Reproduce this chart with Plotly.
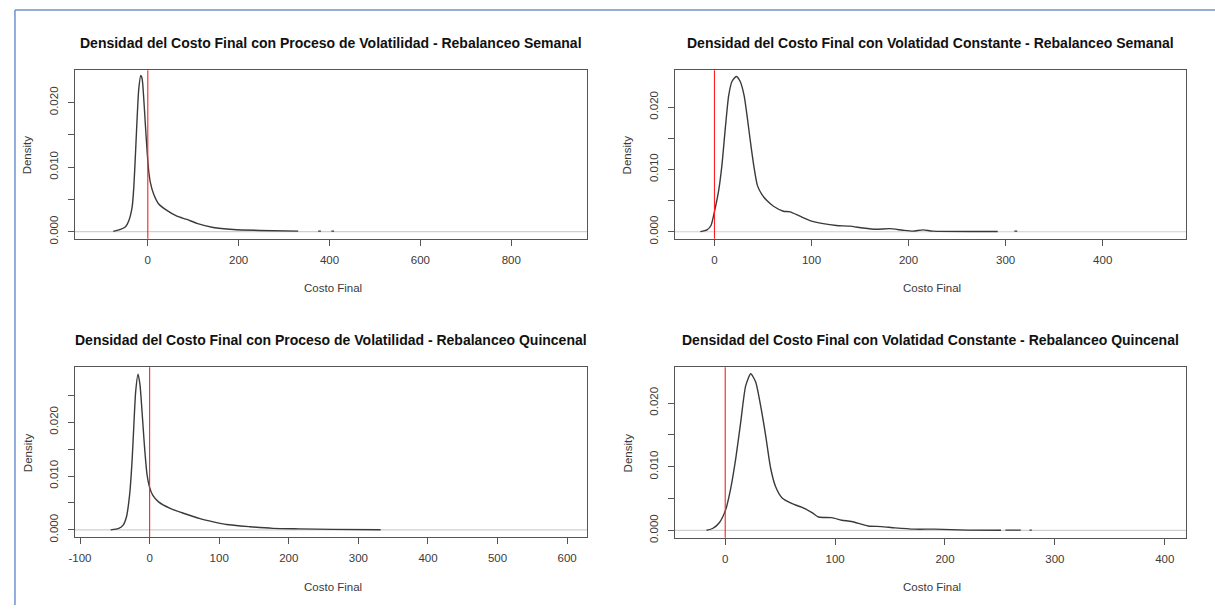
import plotly.graph_objects as go

W, H = 1215, 611

titles = [
    "Densidad del Costo Final con Proceso de Volatilidad - Rebalanceo Semanal",
    "Densidad del Costo Final con Volatidad Constante - Rebalanceo Semanal",
    "Densidad del Costo Final con Proceso de Volatilidad - Rebalanceo Quincenal",
    "Densidad del Costo Final con Volatidad Constante - Rebalanceo Quincenal",
]
x_label = "Costo Final"
y_label = "Density"

# Panel 1: Proceso de Volatilidad - Semanal
x_p1 = [-76, -60, -49, -41.8, -34.5, -30.8, -27.2, -23.5, -19.9, -15.5, -12.5, -8.9, -5.3, -1.6,
        2, 5.7, 13, 24, 42, 64, 86, 108, 144, 188, 247, 331, None, 375, 381, None, 404, 410]
y_p1 = [0.00005, 0.00035, 0.00076, 0.0017, 0.0038, 0.0069, 0.012, 0.0176, 0.0221, 0.0242, 0.0237,
        0.0206, 0.0165, 0.0125, 0.0094, 0.0076, 0.0058, 0.0043, 0.0033, 0.0024, 0.0019, 0.0013,
        0.00066, 0.00035, 0.0002, 0.0001, None, 0.0001, 0.0001, None, 0.0001, 0.0001]

# Panel 2: Volatilidad Constante - Semanal
x_p2 = [-14.6, -7.7, -3.6, 0.2, 4.3, 7.7, 11.1, 14.6, 18, 22.4, 26.5, 30.6, 34, 37.5, 40.9, 44.3,
        48.8, 54, 60.8, 71, 77.9, 88, 98.4, 112, 125.6, 139.4, 153, 166.8, 180.5, 194, 204.5, 215,
        225, 291.8, None, 309, 312]
y_p2 = [0.00002, 0.0003, 0.001, 0.0034, 0.0066, 0.0107, 0.0165, 0.0218, 0.0241, 0.0249, 0.0241,
        0.0218, 0.0181, 0.0139, 0.0102, 0.0074, 0.006, 0.005, 0.0041, 0.0033, 0.0032, 0.0025,
        0.0018, 0.0013, 0.001, 0.0009, 0.0006, 0.0004, 0.0005, 0.00025, 0.0001, 0.0003, 0.0001,
        0.00005, None, 0.0001, 0.0001]

# Panel 3: Proceso de Volatilidad - Quincenal
x_p3 = [-56, -44.3, -38, -33.3, -28.6, -25.2, -22.8, -20, -16.6, -13.8, -10.9, -7.6, -3.8, 0, 4.7,
        12.8, 29.5, 48.6, 72.4, 91.5, 110.5, 143.8, 177, 215, 263, 332]
y_p3 = [0.00002, 0.0003, 0.0009, 0.0024, 0.0067, 0.0128, 0.019, 0.0257, 0.0289, 0.0269, 0.022,
        0.0159, 0.0104, 0.0079, 0.0064, 0.0052, 0.004, 0.0031, 0.0021, 0.0015, 0.001, 0.0006,
        0.0003, 0.0002, 0.0001, 0.00005]

# Panel 4: Volatilidad Constante - Quincenal
x_p4 = [-17, -11.5, -5.4, 0.5, 5, 9.6, 14.1, 18.6, 23.2, 27.7, 32.2, 36.7, 41.3, 45.8, 51.8, 60.9,
        70, 79, 85, 97, 106, 115, 130, 142, 154.5, 172.5, 190.6, 220.6, 251, None, 255, 269, None,
        277, 279]
y_p4 = [0.00002, 0.0003, 0.0012, 0.0033, 0.0066, 0.0113, 0.017, 0.0227, 0.0246, 0.0233, 0.0196,
        0.015, 0.0098, 0.0069, 0.0051, 0.0042, 0.0036, 0.0028, 0.0021, 0.002, 0.0016, 0.0014,
        0.0007, 0.0006, 0.0004, 0.0002, 0.0002, 0.00005, 0.00002, None, 0.00005, 0.00005, None,
        0.00005, 0.00005]

x_ticks = [
    [0, 200, 400, 600, 800],
    [0, 100, 200, 300, 400],
    [-100, 0, 100, 200, 300, 400, 500, 600],
    [0, 100, 200, 300, 400],
]
y_ticks = [
    [0, 0.005, 0.010, 0.015, 0.020],
    [0, 0.005, 0.010, 0.015, 0.020],
    [0, 0.005, 0.010, 0.015, 0.020, 0.025],
    [0, 0.005, 0.010, 0.015, 0.020],
]
y_tick_text = {0: "0.000", 0.010: "0.010", 0.020: "0.020"}

x_ranges = [[-161, 967], [-41, 486], [-107.7, 628.7], [-46, 419.5]]
y_ranges = [[-0.00107, 0.0250], [-0.0011, 0.0259], [-0.00134, 0.03015], [-0.00114, 0.0256]]

# layout geometry in pixels (left, right, top, bottom) of each plot box
boxes = [(69, 584, 71, 241), (672, 1186, 71, 241), (69, 584, 371, 542.5), (672, 1186, 371, 543)]

xs = [x_p1, x_p2, x_p3, x_p4]
ys = [y_p1, y_p2, y_p3, y_p4]

fig = go.Figure()
FONT = "Liberation Sans, Arial, sans-serif"
AX = "#555555"
annotations = []
shapes = []

for i in range(4):
    sfx = "" if i == 0 else str(i + 1)
    l, r, t, b = boxes[i]
    fig.add_trace(go.Scatter(
        x=xs[i], y=ys[i], mode="lines", xaxis="x" + sfx, yaxis="y" + sfx,
        line=dict(color="#3a3a3a", width=1.4, shape="spline", smoothing=0.6),
        connectgaps=False, showlegend=False, hoverinfo="skip"))
    xa = dict(domain=[l / W, r / W], range=x_ranges[i], anchor="y" + sfx,
              showgrid=False, zeroline=False, showline=True, mirror=True,
              linecolor=AX, linewidth=1.3, ticks="outside", ticklen=6, tickcolor=AX,
              tickwidth=1, tickvals=x_ticks[i], ticktext=[str(v) for v in x_ticks[i]],
              tickfont=dict(family=FONT, size=11.5, color="#3a3a3a"), ticklabelstandoff=4)
    ya = dict(domain=[1 - b / H, 1 - t / H], range=y_ranges[i], anchor="x" + sfx,
              showgrid=False, zeroline=False, showline=True, mirror=True,
              linecolor=AX, linewidth=1.3, ticks="outside", ticklen=6, tickcolor=AX,
              tickwidth=1, tickvals=y_ticks[i],
              ticktext=[y_tick_text.get(round(v, 3), "") for v in y_ticks[i]],
              tickangle=-90, tickfont=dict(family=FONT, size=11.5, color="#3a3a3a"),
              ticklabelstandoff=5)
    fig.layout["xaxis" + sfx] = xa
    fig.layout["yaxis" + sfx] = ya

    xref = "x" + sfx
    yref = "y" + sfx
    # zero line (gray) and red vertical line at 0
    shapes.append(dict(type="line", xref=xref + " domain", yref=yref, x0=0, x1=1, y0=0, y1=0,
                       line=dict(color="#d0d0d0", width=1.2), layer="below"))
    shapes.append(dict(type="line", xref=xref, yref=yref + " domain", x0=0, x1=0, y0=0, y1=1,
                       line=dict(color="#ff2020", width=1.1)))

    cx = (l + r) / 2 / W
    title_y = t - 28
    annotations.append(dict(text="<b>" + titles[i] + "</b>", xref="paper", yref="paper",
                            x=cx, y=1 - title_y / H, showarrow=False, xanchor="center",
                            yanchor="middle", font=dict(family=FONT, size=14, color="#111")))
    annotations.append(dict(text=x_label, xref="paper", yref="paper", x=(cx * W + 2) / W,
                            y=1 - (b + 50) / H, showarrow=False, xanchor="center",
                            yanchor="middle", font=dict(family=FONT, size=11.5, color="#3a3a3a")))
    annotations.append(dict(text=y_label, xref="paper", yref="paper", x=(l - 47) / W,
                            y=1 - ((t + b) / 2) / H, showarrow=False, textangle=-90,
                            xanchor="center", yanchor="middle",
                            font=dict(family=FONT, size=11.5, color="#3a3a3a")))

# screenshot frame (blue border at top and left)
shapes.append(dict(type="line", xref="paper", yref="paper", x0=9 / W, x1=1, y0=1 - 10 / H,
                   y1=1 - 10 / H, line=dict(color="#6f92cc", width=1.5)))
shapes.append(dict(type="line", xref="paper", yref="paper", x0=9 / W, x1=9 / W, y0=0,
                   y1=1 - 10 / H, line=dict(color="#6f92cc", width=1.5)))

fig.update_layout(width=W, height=H, margin=dict(l=0, r=0, t=0, b=0),
                  paper_bgcolor="white", plot_bgcolor="white",
                  annotations=annotations, shapes=shapes, showlegend=False)

fig.write_html("out.html")
